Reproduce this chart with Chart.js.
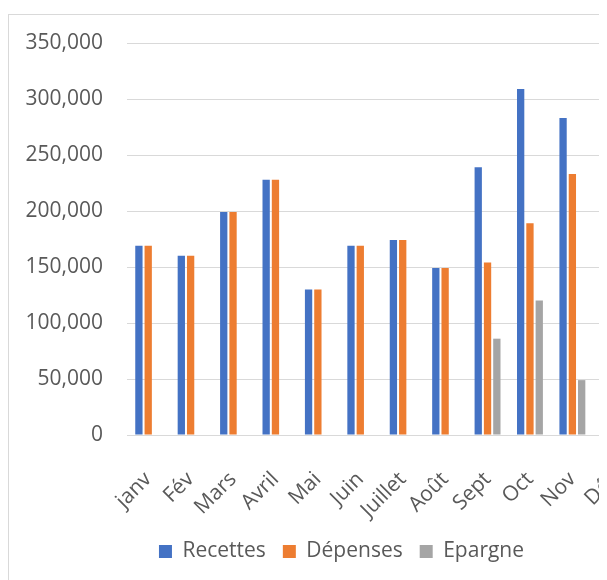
<!DOCTYPE html>
<html>
<head>
<meta charset="utf-8">
<script src="https://cdn.jsdelivr.net/npm/chart.js@4.4.1/dist/chart.umd.min.js"></script>
<style>
  body { margin: 0; background: #fff; overflow: hidden; }
  #clip { position: absolute; left: 0; top: 0; width: 599px; height: 580px; overflow: hidden; }
  #box { position: absolute; left: 8px; top: 14px; width: 664px; height: 600px; border: 1px solid #d9d9d9; }
</style>
</head>
<body>
<div id="clip">
<div id="box"><canvas id="myChart" width="664" height="580" style="width:664px;height:580px"></canvas></div>
</div>
<script>
// months and series
const months = ['janv', 'Fév', 'Mars', 'Avril', 'Mai', 'Juin', 'Juillet', 'Août', 'Sept', 'Oct', 'Nov', 'Déc'];
const recettes = [169000, 160000, 199000, 228000, 130000, 169000, 174000, 149000, 239000, 309000, 283000, 250000];
const depenses = [169000, 160000, 199000, 228000, 130000, 169000, 174000, 149000, 154000, 189000, 233000, 200000];
const epargne = [null, null, null, null, null, null, null, null, 86000, 120000, 49000, 50000];
const yTicks = [0, 50000, 100000, 150000, 200000, 250000, 300000, 350000];

const font = { family: "'Open Sans', sans-serif", size: 21 };
const grey = '#595959';

// legend is centred on the whole chart box, not the area left of the right padding
const shiftLegend = {
    id: 'shiftLegend',
    afterLayout(chart) {
        chart.legend.left += 19;
        chart.legend.right += 19;
    }
};

const ctx = document.getElementById('myChart').getContext('2d');
const myChart = new Chart(ctx, {
    type: 'bar',
    data: {
        labels: months,
        datasets: [
            { label: 'Recettes', data: recettes, backgroundColor: '#4472C4' },
            { label: 'Dépenses', data: depenses, backgroundColor: '#ED7D31' },
            { label: 'Epargne', data: epargne, backgroundColor: '#A5A5A5' }
        ]
    },
    options: {
        responsive: false,
        animation: false,
        categoryPercentage: 0.658,
        barPercentage: 0.785,
        layout: { padding: { top: 28, right: 37, left: 0, bottom: 23 } },
        scales: {
            x: {
                grid: { display: false },
                border: { color: '#d9d9d9', width: 1 },
                ticks: { color: grey, font: font, minRotation: 45, maxRotation: 45, padding: 24 },
                afterFit: function(scale) { scale.height = 89; }
            },
            y: {
                min: 0,
                max: 350000,
                grid: { color: '#d9d9d9', drawTicks: false },
                border: { display: false },
                afterBuildTicks: function(scale) { scale.ticks = yTicks.map(v => ({ value: v })); },
                ticks: {
                    color: grey, font: font, padding: 24,
                    callback: v => v.toLocaleString('en-US')
                },
                afterFit: function(scale) {
                    scale.width = 118;
                    // tick padding would otherwise push the plot top down
                    scale.paddingTop = 0;
                    scale.paddingBottom = 0;
                }
            }
        },
        plugins: {
            legend: {
                position: 'bottom',
                labels: { color: grey, font: font, boxWidth: 13, boxHeight: 13, padding: 17 }
            },
            tooltip: { enabled: false }
        }
    },
    plugins: [shiftLegend]
});
</script>
</body>
</html>
